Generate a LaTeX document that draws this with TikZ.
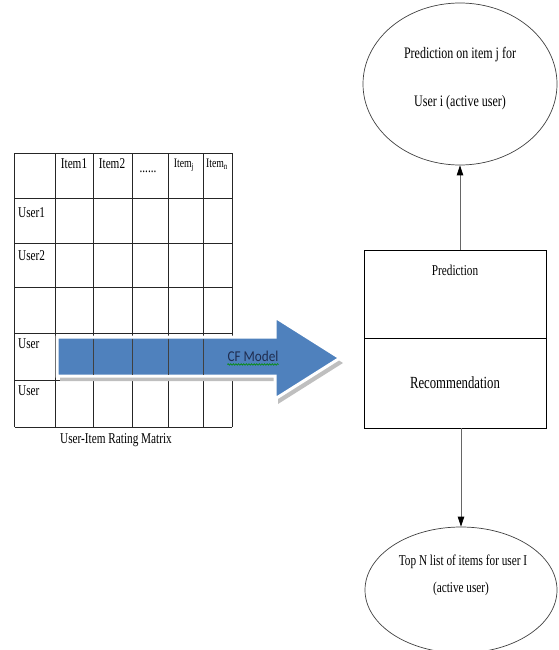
\documentclass[tikz,border=0pt]{standalone}
\usepackage{fontspec}
\setmainfont{Liberation Serif}[FakeStretch=0.75]
\newfontfamily\cffont{Carlito}[FakeStretch=0.88]
\usetikzlibrary{shapes.geometric,arrows.meta,calc,positioning,decorations.pathmorphing}

\definecolor{arrowblue}{HTML}{4F81BD}
\definecolor{cfnavy}{HTML}{1F2D50}

\tikzset{
  gridline/.style={black!85, line width=0.9pt},
  celltxt/.style={inner sep=0pt, font=\fontsize{15}{18}\selectfont},
  smalltxt/.style={inner sep=0pt, font=\fontsize{13}{15}\selectfont},
  ovaltxt/.style={inner sep=0pt, font=\fontsize{16}{19}\selectfont},
  oval/.style={draw=black!75, ellipse, line width=0.7pt, inner sep=0pt},
  stagebox/.style={draw=black, line width=0.9pt, outer sep=0pt, minimum width=182pt},
  link/.style={draw=black!60, line width=0.8pt, -{Triangle[length=10pt,width=6.5pt,color=black]}},
}

\begin{document}
\begin{tikzpicture}[x=1pt, y=-1pt]
    \useasboundingbox (0,0) rectangle (558,650);

    % rating matrix
    \foreach \x in {14.5,55,93,132,168,203,232}
        \draw[gridline] (\x,153) -- (\x,427);
    \foreach \y in {153,198,243,287,333,380,427}
        \draw[gridline] (14.5,\y) -- (232,\y);

    % header and rows
    \node[celltxt, anchor=north] (item1) at (74,158) {Item1};
    \node[celltxt, anchor=north] (item2) at (112,158) {Item2};
    \node[celltxt, anchor=base] (itemdots) at (148,172) {......};
    \node[smalltxt, anchor=north] (itemj) at (184,159) {Item\textsubscript{j}};
    \node[smalltxt, anchor=north] (itemn) at (217,159) {Item\textsubscript{n}};
    \node[celltxt, anchor=north west] (user1) at (18,207) {User1};
    \node[celltxt, anchor=north west] (user2) at (18,250) {User2};
    \node[celltxt, anchor=north west] (useri) at (18,338) {User};
    \node[celltxt, anchor=north west] (usern) at (18,385) {User};
    \node[celltxt, anchor=north west] (caption) at (60,433) {User-Item Rating Matrix};

    % block arrow
    \fill[black!25, shift={(3,5)}] (57,337) -- (275,337) -- (275,317) -- (340,358)
        -- (275,399) -- (275,376) -- (57,376) -- cycle;
    \filldraw[fill=arrowblue, draw=white, line width=3pt, line join=miter]
        (57,337) -- (275,337) -- (275,317) -- (340,358)
        -- (275,399) -- (275,376) -- (57,376) -- cycle;
    \foreach \x in {93,132,168,203}
        \draw[gridline, black!75] (\x,338.5) -- (\x,374.5);
    \node[inner sep=1pt, text=cfnavy, font=\cffont\fontsize{15}{18}\selectfont] (cflabel) at (253,356) {CF Model};
    \draw[green!55!black, line width=0.6pt, decorate, decoration={snake, amplitude=0.8pt, segment length=2.6pt}]
        ($(cflabel.south west)+(1,2)$) -- ($(cflabel.south east)+(-1,2)$);

    % prediction / recommendation
    \node[stagebox, anchor=north west, minimum height=88pt] (predbox) at (364,250) {};
    \node[stagebox, below=0pt of predbox, minimum height=90pt, font=\fontsize{17}{20}\selectfont] (recbox) {Recommendation};
    \node[celltxt, anchor=north] (predtxt) at ($(predbox.north)+(0,15)$) {Prediction};

    % outputs
    \node[oval, minimum width=194pt, minimum height=162pt] (topell) at (460,84) {};
    \node[ovaltxt, anchor=north] (toptxta) at ($(topell.center)+(0,-37)$) {Prediction on item j for};
    \node[ovaltxt, anchor=north] (toptxtb) at ($(topell.center)+(0,11)$) {User i (active user)};

    \node[oval, minimum width=192pt, minimum height=126pt] (botell) at (461,590) {};
    \node[ovaltxt, anchor=north, font=\fontsize{15}{18}\selectfont] (bottxta) at ($(botell.center)+(2,-35)$) {Top N list of items for user I};
    \node[ovaltxt, anchor=north, font=\fontsize{15}{18}\selectfont] (bottxtb) at ($(botell.center)+(0,-8)$) {(active user)};

    \draw[link] (topell.south |- predbox.north) -- (topell.south);
    \draw[link] (botell.north |- recbox.south) -- (botell.north);
\end{tikzpicture}
\end{document}
